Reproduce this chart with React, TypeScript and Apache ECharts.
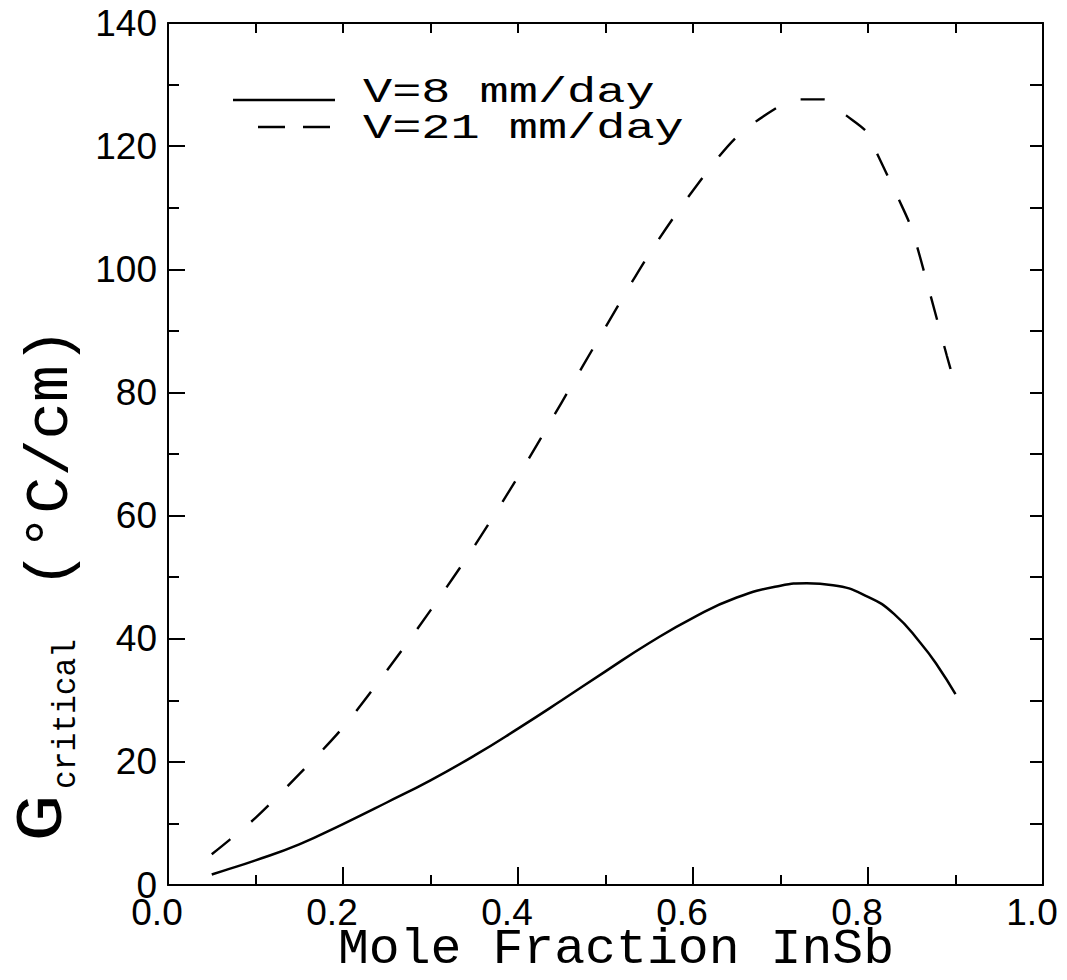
import React, { useEffect, useRef } from 'react';
import * as echarts from 'echarts';

// Data
const moleFractionV8 = [0.05, 0.063, 0.10, 0.15, 0.20, 0.25, 0.30, 0.35, 0.40, 0.45, 0.50, 0.55, 0.60, 0.65, 0.70, 0.73, 0.76, 0.80, 0.83, 0.86, 0.88, 0.90];
const gCriticalV8 = [1.7, 2.3, 4.0, 6.6, 9.9, 13.4, 17.0, 21.0, 25.4, 30.0, 34.7, 39.3, 43.4, 46.7, 48.6, 49.0, 48.7, 46.8, 44.0, 39.3, 35.5, 31.0];

const moleFractionV21 = [0.05, 0.07, 0.10, 0.15, 0.20, 0.25, 0.30, 0.35, 0.40, 0.45, 0.50, 0.55, 0.60, 0.65, 0.70, 0.72, 0.75, 0.775, 0.80, 0.81, 0.835, 0.85, 0.87, 0.89, 0.90];
const gCriticalV21 = [5.0, 7.3, 10.9, 18.0, 25.6, 34.8, 44.6, 55.0, 66.3, 78.4, 90.6, 102.5, 112.8, 121.5, 126.6, 127.6, 127.6, 125.0, 122.1, 118.9, 111.4, 106.5, 96.5, 86.0, 81.0];

const seriesNames = ['V=8 mm/day', 'V=21 mm/day'];
const xTickLabels = ['0.0', '0.2', '0.4', '0.6', '0.8', '1.0'];
const yTickLabels = ['0', '20', '40', '60', '80', '100', '120', '140'];
const xTitle = 'Mole Fraction InSb';
const yTitleParts = ['G', 'critical', '(°C/cm)'];

const BLACK = '#000';
const MONO = '"Liberation Mono", "DejaVu Sans Mono", monospace';
const SANS = '"Liberation Sans", Arial, sans-serif';

export default function App() {
  const ref = useRef<HTMLDivElement>(null);

  useEffect(() => {
    if (!ref.current) return;
    const chart = echarts.init(ref.current, null, { renderer: 'svg' });

    const pairs = (xs: number[], ys: number[]) => xs.map((x, i) => [x, ys[i]]);
    const axisLineStyle = { color: BLACK, width: 2 };

    const option: any = {
      animation: false,
      backgroundColor: '#fff',
      grid: { left: 168, right: 24, top: 23, bottom: 95, containLabel: false },
      xAxis: [
        {
          type: 'value',
          position: 'bottom',
          min: 0,
          max: 1,
          interval: 0.2,
          axisLine: { show: true, onZero: false, lineStyle: axisLineStyle },
          axisTick: { show: true, inside: true, length: 18, lineStyle: axisLineStyle },
          minorTick: { show: true, splitNumber: 2, length: 10, lineStyle: axisLineStyle },
          splitLine: { show: false },
          minorSplitLine: { show: false },
          axisLabel: {
            color: BLACK,
            fontSize: 37,
            fontFamily: SANS,
            margin: 9,
            padding: [0, 22, 0, 0],
            formatter: (v: number) => xTickLabels[Math.round(v / 0.2)] ?? '',
          },
        },
        {
          type: 'value',
          position: 'top',
          min: 0,
          max: 1,
          interval: 0.1,
          axisLine: { show: true, onZero: false, lineStyle: axisLineStyle },
          axisTick: { show: true, inside: true, length: 10, lineStyle: axisLineStyle },
          axisLabel: { show: false },
          splitLine: { show: false },
        },
      ],
      yAxis: [
        {
          type: 'value',
          position: 'left',
          min: 0,
          max: 140,
          interval: 20,
          axisLine: { show: true, onZero: false, lineStyle: axisLineStyle },
          axisTick: { show: true, inside: true, length: 17, lineStyle: axisLineStyle },
          minorTick: { show: true, splitNumber: 2, length: 11, lineStyle: axisLineStyle },
          splitLine: { show: false },
          minorSplitLine: { show: false },
          axisLabel: {
            color: BLACK,
            fontSize: 37,
            fontFamily: SANS,
            margin: 11,
            formatter: (v: number) => yTickLabels[Math.round(v / 20)] ?? '',
          },
        },
        {
          type: 'value',
          position: 'right',
          min: 0,
          max: 140,
          interval: 10,
          axisLine: { show: true, onZero: false, lineStyle: axisLineStyle },
          axisTick: { show: true, inside: true, length: 13, lineStyle: axisLineStyle },
          axisLabel: { show: false },
          splitLine: { show: false },
        },
      ],
      series: [
        {
          name: seriesNames[0],
          type: 'line',
          xAxisIndex: 0,
          yAxisIndex: 0,
          data: pairs(moleFractionV8, gCriticalV8),
          showSymbol: false,
          smooth: 0.5,
          lineStyle: { color: BLACK, width: 2.5, type: 'solid' },
        },
        {
          name: seriesNames[1],
          type: 'line',
          xAxisIndex: 0,
          yAxisIndex: 0,
          data: pairs(moleFractionV21, gCriticalV21),
          showSymbol: false,
          smooth: 0.3,
          lineStyle: { color: BLACK, width: 2.4, type: [24, 27] },
        },
      ],
      graphic: [
        // legend
        { type: 'line', shape: { x1: 233, y1: 100, x2: 335, y2: 100 }, style: { stroke: BLACK, lineWidth: 2.5 } },
        { type: 'line', shape: { x1: 258, y1: 127, x2: 285, y2: 127 }, style: { stroke: BLACK, lineWidth: 2.5 } },
        { type: 'line', shape: { x1: 303, y1: 127, x2: 330, y2: 127 }, style: { stroke: BLACK, lineWidth: 2.5 } },
        {
          type: 'text', x: 363, y: 92, scaleX: 1.35,
          style: { text: seriesNames[0], fill: BLACK, fontSize: 36, fontFamily: MONO, align: 'left', verticalAlign: 'middle' },
        },
        {
          type: 'text', x: 363, y: 128, scaleX: 1.35,
          style: { text: seriesNames[1], fill: BLACK, fontSize: 36, fontFamily: MONO, align: 'left', verticalAlign: 'middle' },
        },
        // x-axis title
        {
          type: 'text', x: 616, y: 950, scaleX: 1.03,
          style: { text: xTitle, fill: BLACK, fontSize: 50, lineHeight: 50, fontFamily: MONO, align: 'center', verticalAlign: 'middle' },
        },
        // y-axis title (rotated)
        {
          type: 'text', x: 43, y: 818, rotation: Math.PI / 2, scaleX: 1.2,
          style: { text: yTitleParts[0], fill: BLACK, fontSize: 66, fontFamily: MONO, align: 'center', verticalAlign: 'middle' },
        },
        {
          type: 'text', x: 66, y: 714, rotation: Math.PI / 2, scaleX: 0.92,
          style: { text: yTitleParts[1], fill: BLACK, fontSize: 34, fontFamily: MONO, align: 'center', verticalAlign: 'middle' },
        },
        {
          type: 'text', x: 50, y: 458, rotation: Math.PI / 2,
          style: { text: yTitleParts[2], fill: BLACK, fontSize: 62, fontFamily: MONO, align: 'center', verticalAlign: 'middle' },
        },
      ],
    };

    chart.setOption(option);
    return () => chart.dispose();
  }, []);

  return (
    <div
      ref={ref}
      style={{ position: 'fixed', left: 0, top: 0, width: 1067, height: 980, background: '#fff' }}
    />
  );
}
